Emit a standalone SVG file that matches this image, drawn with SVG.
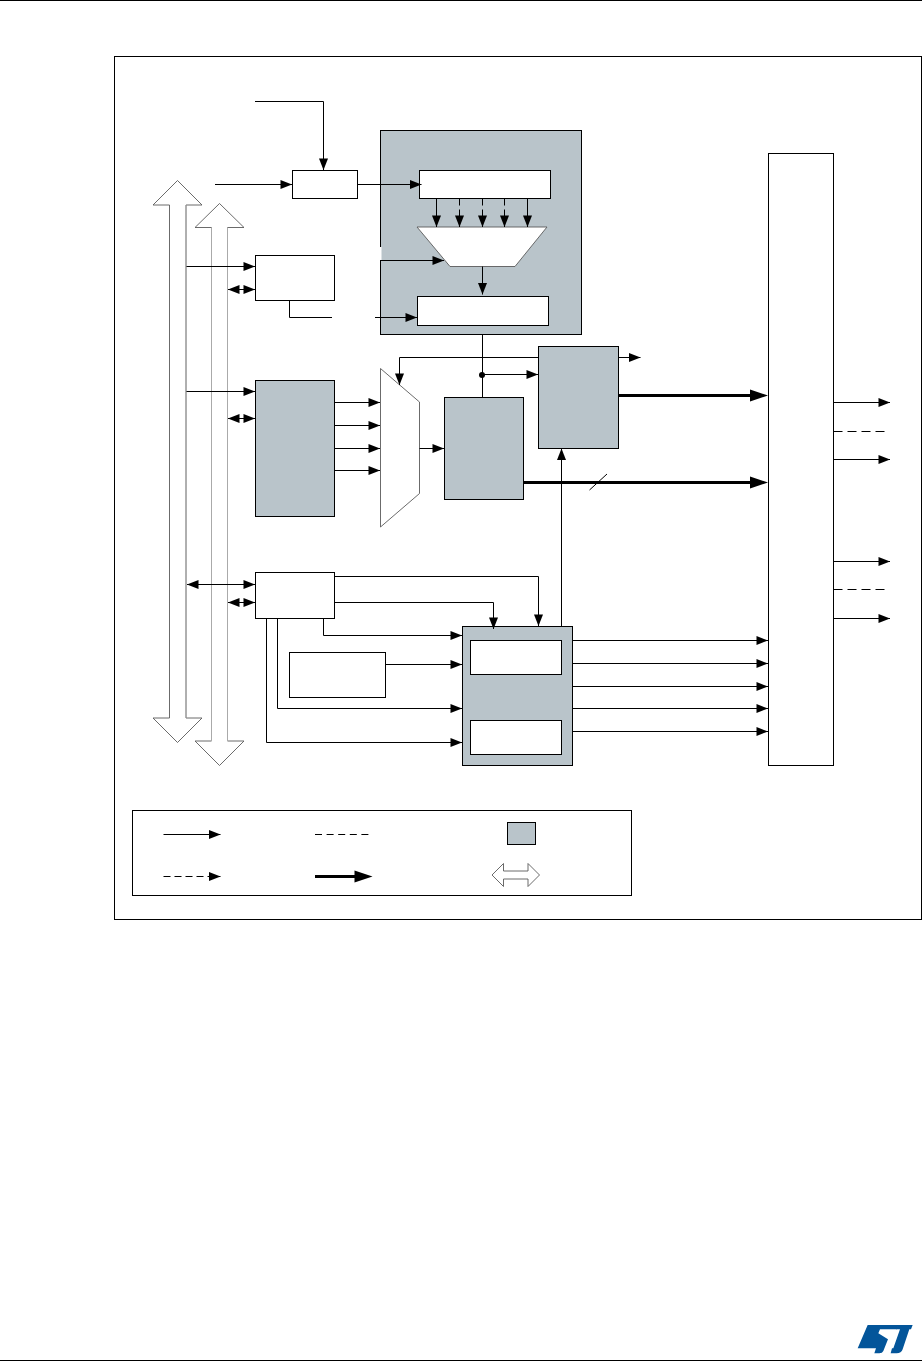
<svg xmlns="http://www.w3.org/2000/svg" width="922" height="1361" viewBox="0 0 922 1361">
<style>
.b{fill:#fff;stroke:#000;stroke-width:1}
.g{fill:#b9c4ca;stroke:#000;stroke-width:1}
.t{fill:#fff;stroke:#5a5a5a;stroke-width:.9}
.c{fill:none;stroke:#000;stroke-width:1}
.a{marker-end:url(#ar)}
.s{marker-start:url(#al)}
.d{stroke-dasharray:7 4}
.k{fill:none;stroke:#000;stroke-width:3;marker-end:url(#ak)}
.q{fill:none;stroke:#aaa;stroke-width:1}
</style>
<defs>
<marker id="ar" markerUnits="userSpaceOnUse" markerWidth="12" markerHeight="9" refX="11.5" refY="4.5" orient="auto" overflow="visible"><path d="M0,0L11.5,4.5L0,9Z" fill="#000"/></marker>
<marker id="al" markerUnits="userSpaceOnUse" markerWidth="12" markerHeight="9" refX="0" refY="4.5" orient="auto" overflow="visible"><path d="M11.5,0L0,4.5L11.5,9Z" fill="#000"/></marker>
<marker id="ak" markerUnits="userSpaceOnUse" markerWidth="18" markerHeight="12" refX="10" refY="6" orient="auto" overflow="visible"><path d="M0,0L18,6L0,12Z" fill="#000"/></marker>
</defs>
<rect width="922" height="1361" fill="#fff"/>
<path d="M0,.5H922M0,1360.5H922" stroke="#000" stroke-width="1" fill="none"/>
<rect id="frame" x="114.5" y="56.5" width="807" height="863" fill="#fff" stroke="#000"/>
<g id="bus1">
<polygon class="t" points="177.5,180.5 202,205 186,205 186,718 202,718 177.5,742.5 153,718 169.5,718 169.5,205 153,205"/>
<path class="q" d="M186,205V718"/>
</g>
<g id="bus2">
<polygon class="t" points="219.5,203.5 244,227.5 227.5,227.5 227.5,741 244,741 219.5,765.5 195,741 211.5,741 211.5,227.5 195,227.5"/>
<path class="q" d="M211.5,227.5V741M227.5,227.5V741"/>
</g>
<rect id="clk-box" class="b" x="292.5" y="170.5" width="65" height="28"/>
<g id="gray-top">
<rect class="g" x="380.5" y="130.5" width="201" height="204"/>
<rect x="380" y="247" width="1.5" height="13" fill="#fff"/>
</g>
<rect id="reg-top" class="b" x="419.5" y="170.5" width="131" height="28"/>
<polygon id="mux-top" class="t" points="417,227 547,227 515,266.5 450,266.5"/>
<rect id="reg-low" class="b" x="417.5" y="296.5" width="131" height="29"/>
<rect id="box-a" class="b" x="255.5" y="255.5" width="79" height="45"/>
<rect id="box-b" class="g" x="255.5" y="380.5" width="79" height="136"/>
<polygon id="mux-mid" class="t" points="380.5,368.5 419.5,402 419.5,493.5 380.5,527"/>
<rect id="box-c" class="g" x="444.5" y="397.5" width="79" height="102"/>
<rect id="box-d" class="g" x="538.5" y="346.5" width="80" height="102"/>
<rect id="box-e" class="b" x="255.5" y="572.5" width="79" height="46"/>
<rect id="box-f" class="b" x="289.5" y="652.5" width="96" height="45"/>
<g id="box-g">
<rect class="g" x="462.5" y="626.5" width="110" height="139"/>
<rect class="b" x="470.5" y="640.5" width="91" height="34"/>
<rect class="b" x="470.5" y="720.5" width="91" height="34"/>
</g>
<rect id="box-h" class="b" x="768.5" y="153.5" width="65" height="612"/>
<g id="connectors">
<path class="c a" d="M255,101.5H323.5V170"/>
<path class="c a" d="M215,184.5H292"/>
<path class="c a" d="M357.5,184.5H421.5"/>
<path class="c a" d="M436.5,198.5V227"/>
<path class="c a d" d="M459.5,198.5V227"/>
<path class="c a d" d="M482.5,198.5V227"/>
<path class="c a d" d="M504.5,198.5V227"/>
<path class="c a" d="M527.5,198.5V227"/>
<path class="c a" d="M482.5,266.5V294.5"/>
<path class="c a" d="M380.5,260.5H444"/>
<path class="c a" d="M186.5,266.5H255"/>
<path class="c a s" d="M228,289.5H255"/>
<path class="c" d="M289.5,300.5V317.5H332"/>
<path class="c a" d="M375,317.5H417"/>
<path class="c" d="M482.5,334.5V397.5"/>
<circle cx="482" cy="375" r="3" fill="#000"/>
<path class="c a" d="M482,374.5H538"/>
<path class="c a" d="M538.5,357.5H399.5V385"/>
<path class="c a" d="M618.5,357.5H640.5"/>
<path class="k" d="M618.5,395.5H760"/>
<path class="k" d="M523.5,482.5H760"/>
<path class="c" d="M589.5,490L607,474"/>
<path class="c a" d="M186.5,391.5H255"/>
<path class="c a s" d="M228,418.5H255"/>
<path class="c a" d="M334.5,402.5H380"/>
<path class="c a" d="M334.5,425.5H380"/>
<path class="c a" d="M334.5,448.5H380"/>
<path class="c a" d="M334.5,470.5H380"/>
<path class="c a" d="M419.5,448.5H444"/>
<path class="c a" d="M561.5,626.5V448.5"/>
<path class="c a s" d="M187,584.5H255"/>
<path class="c a s" d="M228,602.5H255"/>
<path class="c a" d="M334.5,576.5H538.5V626"/>
<path class="c a" d="M334.5,602.5H493.5V629"/>
<path class="c a" d="M323.5,618.5V635.5H462"/>
<path class="c a" d="M277.5,618.5V708.5H462"/>
<path class="c a" d="M266.5,618.5V742.5H462"/>
<path class="c a" d="M385.5,664.5H462"/>
<path class="c a" d="M572.5,640.5H768"/>
<path class="c a" d="M572.5,663.5H768"/>
<path class="c a" d="M572.5,686.5H768"/>
<path class="c a" d="M572.5,708.5H768"/>
<path class="c a" d="M572.5,731.5H768"/>
<path class="c a" d="M833.5,402.5H890"/>
<path class="c" stroke-dasharray="9 5" d="M833.5,431.5H885"/>
<path class="c a" d="M833.5,459.5H890"/>
<path class="c a" d="M833.5,561.5H890"/>
<path class="c" stroke-dasharray="9 5" d="M833.5,589.5H885"/>
<path class="c a" d="M833.5,618.5H890"/>
</g>
<g id="legend">
<rect class="b" x="132.5" y="810.5" width="499" height="85"/>
<path class="c a" d="M163.5,834.5H220.5"/>
<path class="c" stroke-dasharray="7 4.6" d="M315,834.5H372"/>
<rect class="g" x="507.5" y="822.5" width="28" height="22"/>
<path class="c a" stroke-dasharray="7 4" d="M163.5,876.5H220.5"/>
<path class="k" d="M315,876.5H364.5"/>
<polygon class="t" points="492,875 503.5,863.5 503.5,871 528,871 528,863.5 539.5,875 528,886.5 528,879 503.5,879 503.5,886.5"/>
</g>
<g id="st-logo" transform="translate(856,1320) scale(.3333)" fill="#03559a">
<path d="M35,15H128L122,28H72L67,40L96,58L82,93Q79,100 70,100H55L60,85H5Z"/>
<path d="M126,15H170L165,28H160L140,88Q136,100 122,100H104L108,85H112L132,28H120Z"/>
</g>
</svg>
